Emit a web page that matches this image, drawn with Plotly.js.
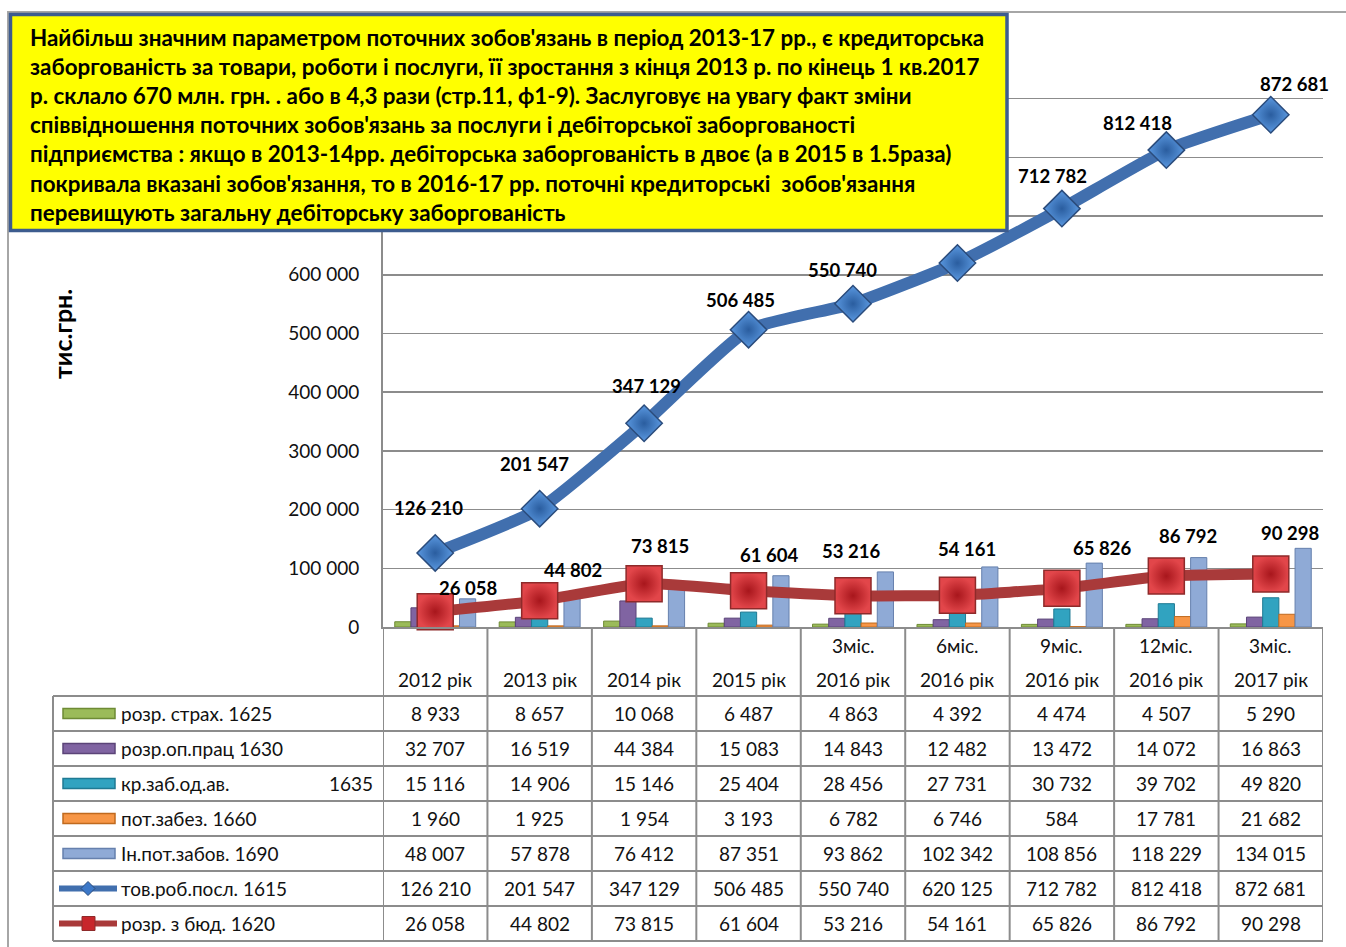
<!DOCTYPE html>
<html><head><meta charset="utf-8">
<script src="https://cdn.plot.ly/plotly-3.0.1.min.js"></script>
<style>html,body{margin:0;padding:0;background:#fff;overflow:hidden}</style>
</head><body><div id="chart" style="width:1346px;height:947px"></div>
<script>
// ---------- data ----------
const categories = ["2012 рік","2013 рік","2014 рік","2015 рік","3міс. 2016 рік","6міс. 2016 рік","9міс. 2016 рік","12міс. 2016 рік","3міс. 2017 рік"];
const periodLabels = ["","","","","3міс.","6міс.","9міс.","12міс.","3міс."];
const yearLabels = ["2012 рік","2013 рік","2014 рік","2015 рік","2016 рік","2016 рік","2016 рік","2016 рік","2017 рік"];
const seriesNames = ["розр. страх. 1625","розр.оп.прац 1630","кр.заб.од.ав.            1635","пот.забез. 1660","Ін.пот.забов. 1690","тов.роб.посл. 1615","розр. з бюд. 1620"];
const insurance1625 = [8933, 8657, 10068, 6487, 4863, 4392, 4474, 4507, 5290];
const wages1630 = [32707, 16519, 44384, 15083, 14843, 12482, 13472, 14072, 16863];
const advances1635 = [15116, 14906, 15146, 25404, 28456, 27731, 30732, 39702, 49820];
const provisions1660 = [1960, 1925, 1954, 3193, 6782, 6746, 584, 17781, 21682];
const otherLiab1690 = [48007, 57878, 76412, 87351, 93862, 102342, 108856, 118229, 134015];
const tradePayables1615 = [126210, 201547, 347129, 506485, 550740, 620125, 712782, 812418, 872681];
const budget1620 = [26058, 44802, 73815, 61604, 53216, 54161, 65826, 86792, 90298];
const yTickValues = [0, 100000, 200000, 300000, 400000, 500000, 600000, 700000, 800000, 900000, 1000000];
const yTickLabels = ["0", "100 000", "200 000", "300 000", "400 000", "500 000", "600 000", "", "", "", ""]; // upper ones sit under the note box
const axisTitle = "тис.грн.";
const noteLines = [
 "Найбільш значним параметром поточних зобов'язань в період 2013-17 рр., є кредиторська",
 "заборгованість за товари, роботи і послуги, її зростання з кінця 2013 р. по кінець 1 кв.2017",
 "р. склало 670 млн. грн. . або в 4,3 рази (стр.11, ф1-9). Заслуговує на увагу факт зміни",
 "співвідношення поточних зобов'язань за послуги і дебіторської заборгованості",
 "підприємства : якщо в 2013-14рр. дебіторська заборгованість в двоє (а в 2015 в 1.5раза)",
 "покривала вказані зобов'язання, то в 2016-17 рр. поточні кредиторські  зобов'язання",
 "перевищують загальну дебіторську заборгованість"
];

// ---------- styles / geometry ----------
const W = 1346, H = 947;
const px = x => x / W, py = y => 1 - y / H;
const FONT = "Lato, 'Open Sans', sans-serif";
const barSeries = [insurance1625, wages1630, advances1635, provisions1660, otherLiab1690];
const barColors = ["#9BBB59", "#8064A2", "#31A3C0", "#F79646", "#8FAAD6"];
const barEdges = ["#6E8B35", "#5B4478", "#1F7A93", "#C06A1E", "#6680AD"];
const allSeries = [insurance1625, wages1630, advances1635, provisions1660, otherLiab1690, tradePayables1615, budget1620];
const blueOff = [[-7,45],[-5,45],[2,37],[-8,30],[-11,34],[-10,34],[-9,33],[-29,27],[24,31]];
const redOff = [[33,24],[33,31],[16,38],[20,36],[-2,45],[10,46],[40,40],[22,40],[19,41]];
const labelsUnderNoteBox = [5]; // hidden behind the note box in the original
const fmt = n => String(n).replace(/\B(?=(\d{3})+(?!\d))/g, " ");

const traces = [];
barSeries.forEach((vals, i) => {
  traces.push({type: "bar", name: seriesNames[i], x: categories, y: vals,
    marker: {color: barColors[i], line: {color: barEdges[i], width: 1}}, hoverinfo: "y"});
});
traces.push({type: "scatter", mode: "lines+markers", name: seriesNames[6], x: categories, y: budget1620,
  line: {color: "#A93A3A", width: 11, shape: "spline", smoothing: 0.5},
  marker: {symbol: "square", size: 36, color: "#E2464A", gradient: {type: "radial", color: "#A8161C"},
    line: {color: "#8E2A2A", width: 1.5}}, cliponaxis: false});
traces.push({type: "scatter", mode: "lines+markers", name: seriesNames[5], x: categories, y: tradePayables1615,
  line: {color: "#416FAE", width: 12, shape: "spline", smoothing: 0.5},
  marker: {symbol: "diamond", size: 28, color: "#5A98E0", gradient: {type: "radial", color: "#2A5D9F"},
    line: {color: "#2B4C7C", width: 1.5}}, cliponaxis: false});

const shapes = [];
const ann = [];
const GRID = "#8C8C8C";
// chart outer border
shapes.push({type: "rect", xref: "paper", yref: "paper", x0: px(8), x1: px(1352), y0: py(12), y1: py(953),
  line: {color: "#A6A6A6", width: 2}, layer: "below"});
// yellow note box (above the plot, covers the upper grid)
shapes.push({type: "rect", xref: "paper", yref: "paper", x0: px(10.5), x1: px(1007), y0: py(14.5), y1: py(230.5),
  fillcolor: "#FFFF00", line: {color: "#3D5C8E", width: 3.5}, layer: "above"});
// table geometry
const tblLeft = 53, tblRight = 1323, headTop = 627, rowTop = 696, rowH = 35;
for (let r = 0; r <= seriesNames.length; r++) {
  const y = rowTop + r * rowH;
  shapes.push({type: "line", xref: "paper", yref: "paper", x0: px(tblLeft), x1: px(tblRight), y0: py(y), y1: py(y),
    line: {color: GRID, width: 2}});
}
shapes.push({type: "line", xref: "paper", yref: "paper", x0: px(tblLeft), x1: px(tblLeft),
  y0: py(rowTop), y1: py(rowTop + rowH * seriesNames.length), line: {color: GRID, width: 2}});
for (let k = 0; k <= categories.length; k++) {
  shapes.push({type: "line", xref: "x", yref: "paper", x0: k - 0.5, x1: k - 0.5,
    y0: py(headTop), y1: py(rowTop + rowH * seriesNames.length), line: {color: GRID, width: 2}});
}
// header text
categories.forEach((c, i) => {
  if (periodLabels[i]) ann.push({xref: "x", yref: "paper", x: c, y: py(645), text: periodLabels[i], showarrow: false,
    font: {size: 19, color: "#111"}, yanchor: "middle"});
  ann.push({xref: "x", yref: "paper", x: c, y: py(679), text: yearLabels[i], showarrow: false,
    font: {size: 19, color: "#111"}, yanchor: "middle"});
});
// table cells + legend column
allSeries.forEach((vals, r) => {
  const yc = rowTop + r * rowH + rowH / 2;
  vals.forEach((v, i) => ann.push({xref: "x", yref: "paper", x: categories[i], y: py(yc), text: fmt(v),
    showarrow: false, font: {size: 19, color: "#111"}, yanchor: "middle"}));
  const parts = seriesNames[r].split(/\s{2,}/);
  ann.push({xref: "paper", yref: "paper", x: px(119), y: py(yc), text: parts[0], xanchor: "left", yanchor: "middle",
    showarrow: false, font: {size: 19, color: "#111"}});
  if (parts[1]) ann.push({xref: "paper", yref: "paper", x: px(375), y: py(yc), text: parts[1], xanchor: "right",
    yanchor: "middle", showarrow: false, font: {size: 19, color: "#111"}});
  if (r < 5) {
    shapes.push({type: "rect", xref: "paper", yref: "paper", x0: px(63), x1: px(115), y0: py(yc - 5), y1: py(yc + 5),
      fillcolor: barColors[r], line: {color: barEdges[r], width: 1.5}});
  } else if (r === 5) {
    shapes.push({type: "line", xref: "paper", yref: "paper", x0: px(59), x1: px(117), y0: py(yc), y1: py(yc),
      line: {color: "#416FAE", width: 6}});
    shapes.push({type: "path", xref: "paper", yref: "paper",
      path: `M ${px(88)} ${py(yc - 7)} L ${px(95)} ${py(yc)} L ${px(88)} ${py(yc + 7)} L ${px(81)} ${py(yc)} Z`,
      fillcolor: "#3C78C8", line: {color: "#2B4C7C", width: 1}});
  } else {
    shapes.push({type: "line", xref: "paper", yref: "paper", x0: px(59), x1: px(117), y0: py(yc), y1: py(yc),
      line: {color: "#A93A3A", width: 6}});
    shapes.push({type: "rect", xref: "paper", yref: "paper", x0: px(82), x1: px(95), y0: py(yc + 7), y1: py(yc - 7),
      fillcolor: "#C8262B", line: {color: "#8E2A2A", width: 1}});
  }
});
// data labels
tradePayables1615.forEach((v, i) => {
  if (labelsUnderNoteBox.includes(i)) return;
  ann.push({xref: "x", yref: "y", x: categories[i], y: v, text: "<b>" + fmt(v) + "</b>",
    showarrow: false, xshift: blueOff[i][0], yshift: blueOff[i][1], font: {size: 18.5, color: "#000"}});
});
budget1620.forEach((v, i) => ann.push({xref: "x", yref: "y", x: categories[i], y: v, text: "<b>" + fmt(v) + "</b>",
  showarrow: false, xshift: redOff[i][0], yshift: redOff[i][1], font: {size: 18.5, color: "#000"}}));
// y axis title
ann.push({xref: "paper", yref: "paper", x: px(62), y: py(334), xanchor: "center", yanchor: "middle",
  text: "<b>" + axisTitle + "</b>", textangle: -90, showarrow: false, font: {size: 25, color: "#000"}});
// note text
ann.push({xref: "paper", yref: "paper", x: px(28), y: py(125), xanchor: "left", yanchor: "middle", align: "left",
  text: noteLines.map(t => "<b>" + t + "</b>").join("<br>"), showarrow: false, font: {size: 22.4, color: "#000"}});

const layout = {
  width: W, height: H, margin: {l: 0, r: 0, t: 0, b: 0}, showlegend: false,
  paper_bgcolor: "#fff", plot_bgcolor: "#fff",
  font: {family: FONT, color: "#000"},
  barmode: "group", bargap: 0.225, bargroupgap: 0,
  xaxis: {domain: [px(383), px(1323)], type: "category", range: [-0.5, categories.length - 0.5],
    showticklabels: false, ticks: "", showgrid: false,
    showline: true, linecolor: GRID, linewidth: 2, zeroline: false, fixedrange: true},
  yaxis: {domain: [py(627), py(40)], range: [0, 1000000], tickmode: "array", tickvals: yTickValues, ticktext: yTickLabels,
    showgrid: true, gridcolor: GRID, gridwidth: 1.5, showline: true, linecolor: GRID, linewidth: 2, zeroline: false,
    ticks: "", ticklabelstandoff: 18, tickfont: {size: 19, color: "#111"}, fixedrange: true},
  shapes: shapes, annotations: ann
};
Plotly.newPlot("chart", traces, layout, {displayModeBar: false, staticPlot: true});
</script></body></html>
